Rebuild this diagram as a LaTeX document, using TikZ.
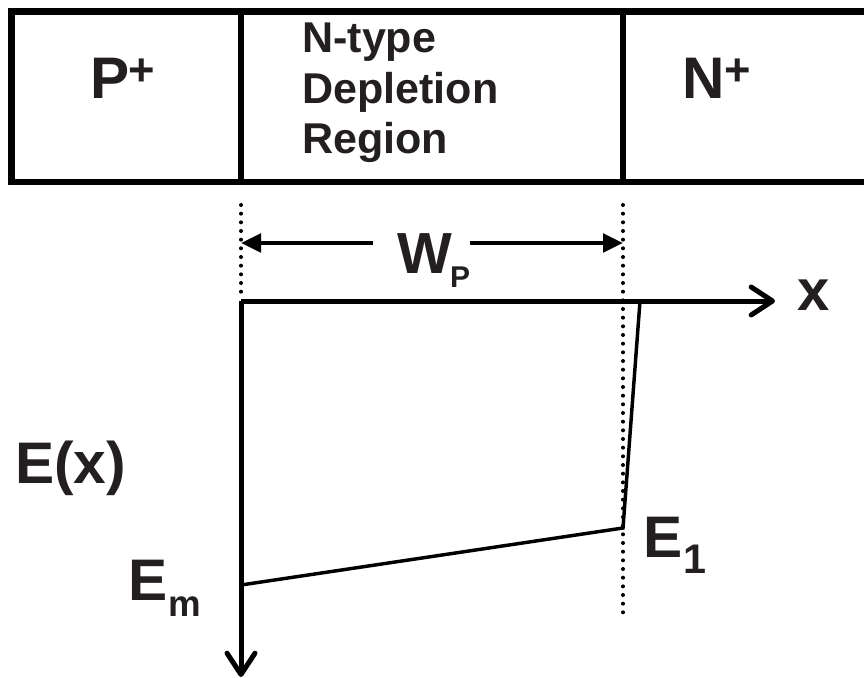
\documentclass[tikz,border=0pt]{standalone}
\usepackage{fontspec}
\usepackage{graphicx}
\setmainfont{Liberation Sans}
\usetikzlibrary{arrows.meta}
\definecolor{ink}{RGB}{35,31,32}
\begin{document}
\begin{tikzpicture}[x=0.75pt,y=-0.75pt,
  lbl/.style={inner sep=0pt, anchor=base west, text=ink, font=\bfseries},
  boxline/.style={line width=4.9pt, black},
  divline/.style={line width=4.2pt, black},
  axisline/.style={line width=3.75pt, black, -{Straight Barb[length=16pt,width=21pt,round]}},
  dimline/.style={line width=3.6pt, black, -{Triangle[length=15pt,width=13.5pt]}},
  curveline/.style={line width=2.6pt, black, line join=miter},
  dotline/.style={line width=3pt, black, line cap=round, dash pattern=on 0pt off 6.5pt}]
\useasboundingbox (0,0) rectangle (864,678);
% top structure
\draw[boxline] (864,11.5) -- (11.5,11.5) -- (11.5,182) -- (864,182);
\draw[divline] (241,11.5) -- (241,182);
\draw[divline] (623,11.5) -- (623,182);
\node[lbl] (pp) at (90.5,98) {\fontsize{44}{44}\selectfont P\kern-1pt\raisebox{9.5pt}{\fontsize{34}{34}\selectfont +}};
\node[lbl] (nt1) at (302,52) {\fontsize{32.3}{32.3}\selectfont N-type};
\node[lbl] (nt2) at (302,103.5) {\fontsize{32.3}{32.3}\selectfont Depletion};
\node[lbl] (nt3) at (302,153) {\fontsize{32.3}{32.3}\selectfont Region};
\node[lbl] (np) at (682.7,98) {\fontsize{44}{44}\selectfont N\kern-1pt\raisebox{9.5pt}{\fontsize{34}{34}\selectfont +}};
% dotted guides
\coordinate (dlt) at (241,205);
\coordinate (dlb) at (241,293);
\coordinate (drt) at (623,205);
\coordinate (drb) at (623,615);
\draw[dotline] (dlt) -- (dlb);
\draw[dotline] (drt) -- (drb);
% W_P dimension
\node[lbl] (wp) at (397,273) {\fontsize{43.5}{43.5}\selectfont W\kern-1.5pt\raisebox{-10.5pt}{\fontsize{22.5}{22.5}\selectfont P}};
\coordinate (wl) at (373,243);
\coordinate (wr) at (470,243);
\coordinate (dl) at (241,243);
\coordinate (dr) at (623,243);
\draw[dimline] (wl) -- (dl);
\draw[dimline] (wr) -- (dr);
% axes
\coordinate (o) at (241,301);
\coordinate (xend) at (775,301);
\coordinate (yend) at (241,677);
\draw[axisline] (o) -- (xend);
\draw[axisline] (o) -- (yend);
\node[lbl] (xl) at (797.5,310) {\fontsize{43.5}{43.5}\selectfont x};
\node[lbl] (ex) at (15,483) {\fontsize{44}{44}\selectfont E(x)};
% field profile
\coordinate (em) at (241,585);
\coordinate (e1) at (623,528);
\coordinate (et) at (640,301);
\draw[curveline] (em) -- (e1) -- (et);
\node[lbl] (eml) at (128.7,600) {\fontsize{44}{44}\selectfont E\raisebox{-12pt}{\fontsize{27.5}{27.5}\selectfont m}};
\node[lbl] (e1l) at (643.7,557) {\fontsize{44}{44}\selectfont E\raisebox{-12pt}{\fontsize{31}{31}\selectfont 1}};
\end{tikzpicture}
\end{document}
